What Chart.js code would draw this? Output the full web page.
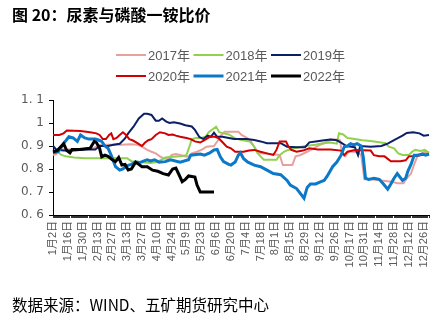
<!DOCTYPE html>
<html>
<head>
<meta charset="utf-8">
<script src="https://cdn.jsdelivr.net/npm/chart.js@4/dist/chart.umd.min.js"></script>
<style>
  html, body { margin: 0; padding: 0; background: #fff; }
  #wrap { width: 447px; height: 335px; }
</style>
</head>
<body>
<div id="wrap"><canvas id="ratioChart" width="447" height="335"></canvas></div>
<script>

    /**
     * Data
     *
     * - days of the year on the x axis (holidays left out)
     * - one list of [day index, ratio] points per year
     */

    var skipDays = ['1月1日', '5月1日', '10月1日', '10月2日', '10月3日', '10月4日', '10月5日', '10月6日', '10月7日'];
    var labelEvery = 14;
    var yTicks = { min: 0.6, max: 1.1, step: 0.1 };

    var years = ['2017年', '2018年', '2019年', '2020年', '2021年', '2022年'];
    var colors = ['#E8A09E', '#92D050', '#0B1F66', '#D00000', '#0B78C8', '#000000'];
    var widths = [2, 2, 2, 2, 3, 3];

    var data2017 = [[0, 0.861], [3, 0.865], [5, 0.883], [10, 0.885], [25, 0.885], [38, 0.89], [44, 0.904], [52, 0.905], [65, 0.905], [73, 0.908], [80, 0.905], [84, 0.897], [89, 0.883], [93, 0.875], [97, 0.868], [101, 0.855], [104, 0.847], [109, 0.843], [112, 0.861], [116, 0.865], [121, 0.86], [125, 0.854], [128, 0.854], [131, 0.868], [136, 0.875], [141, 0.885], [145, 0.897], [152, 0.9], [156, 0.926], [159, 0.948], [162, 0.962], [175, 0.962], [178, 0.948], [183, 0.935], [186, 0.926], [190, 0.897], [193, 0.875], [196, 0.868], [205, 0.865], [214, 0.861], [217, 0.817], [226, 0.817], [229, 0.855], [233, 0.86], [240, 0.875], [246, 0.89], [252, 0.905], [256, 0.912], [262, 0.928], [268, 0.928], [271, 0.925], [273, 0.865], [276, 0.855], [279, 0.875], [285, 0.875], [289, 0.868], [291, 0.86], [294, 0.755], [300, 0.755], [310, 0.75], [320, 0.745], [325, 0.738], [331, 0.738], [334, 0.76], [338, 0.78], [341, 0.82], [344, 0.855], [347, 0.865], [351, 0.875], [355, 0.872]];

    var data2018 = [[0, 0.875], [4, 0.875], [8, 0.861], [12, 0.855], [20, 0.85], [30, 0.847], [70, 0.847], [74, 0.834], [82, 0.83], [92, 0.826], [98, 0.83], [102, 0.84], [106, 0.85], [110, 0.852], [120, 0.855], [126, 0.86], [129, 0.9], [131, 0.93], [135, 0.935], [140, 0.935], [144, 0.94], [147, 0.96], [152, 0.977], [154, 0.984], [157, 0.96], [161, 0.955], [166, 0.95], [172, 0.933], [178, 0.926], [186, 0.919], [190, 0.897], [193, 0.87], [196, 0.855], [199, 0.84], [211, 0.84], [214, 0.86], [218, 0.875], [222, 0.883], [228, 0.89], [238, 0.9], [248, 0.905], [255, 0.912], [262, 0.915], [268, 0.91], [270, 0.955], [274, 0.95], [278, 0.935], [285, 0.93], [292, 0.925], [300, 0.922], [308, 0.916], [314, 0.912], [317, 0.897], [322, 0.89], [326, 0.868], [330, 0.861], [336, 0.861], [339, 0.875], [342, 0.883], [347, 0.878], [351, 0.883], [355, 0.87]];

    var data2019 = [[0, 0.9], [3, 0.885], [10, 0.88], [20, 0.88], [30, 0.885], [40, 0.885], [44, 0.9], [52, 0.9], [57, 0.905], [63, 0.91], [68, 0.933], [71, 0.955], [76, 0.984], [81, 1.02], [86, 1.04], [89, 1.04], [93, 1.035], [97, 1.01], [100, 1.01], [103, 1.02], [107, 1.006], [110, 1.0], [114, 1.003], [120, 0.998], [125, 0.99], [131, 0.985], [134, 0.97], [138, 0.94], [142, 0.93], [146, 0.945], [149, 0.94], [152, 0.958], [155, 0.94], [160, 0.94], [166, 0.935], [171, 0.93], [183, 0.93], [190, 0.926], [196, 0.92], [202, 0.912], [215, 0.912], [221, 0.897], [230, 0.895], [238, 0.895], [242, 0.916], [248, 0.92], [256, 0.925], [262, 0.928], [268, 0.925], [272, 0.915], [277, 0.9], [285, 0.895], [288, 0.86], [290, 0.9], [300, 0.897], [310, 0.9], [316, 0.91], [322, 0.926], [326, 0.935], [330, 0.945], [334, 0.957], [340, 0.96], [346, 0.955], [350, 0.945], [355, 0.948]];

    var data2020 = [[0, 0.948], [6, 0.948], [10, 0.955], [13, 0.967], [26, 0.965], [35, 0.96], [41, 0.955], [44, 0.948], [47, 0.93], [50, 0.93], [53, 0.948], [55, 0.955], [57, 0.93], [60, 0.935], [63, 0.948], [66, 0.96], [69, 0.948], [72, 0.93], [75, 0.925], [79, 0.915], [84, 0.9], [87, 0.915], [90, 0.925], [93, 0.93], [97, 0.948], [101, 0.96], [106, 0.955], [109, 0.948], [113, 0.95], [116, 0.945], [120, 0.94], [126, 0.935], [130, 0.93], [134, 0.92], [139, 0.915], [143, 0.925], [148, 0.94], [153, 0.94], [156, 0.935], [158, 0.926], [161, 0.912], [164, 0.897], [168, 0.89], [172, 0.875], [180, 0.875], [185, 0.88], [190, 0.883], [196, 0.875], [202, 0.868], [208, 0.861], [211, 0.883], [214, 0.92], [220, 0.92], [222, 0.9], [225, 0.883], [230, 0.875], [236, 0.88], [242, 0.89], [250, 0.885], [262, 0.885], [272, 0.88], [275, 0.86], [278, 0.875], [285, 0.883], [300, 0.88], [303, 0.86], [308, 0.855], [313, 0.855], [319, 0.834], [328, 0.834], [333, 0.838], [336, 0.855], [342, 0.857], [350, 0.862], [355, 0.865]];

    var data2021 = [[0, 0.87], [5, 0.875], [10, 0.91], [15, 0.94], [19, 0.935], [23, 0.92], [26, 0.948], [30, 0.935], [34, 0.93], [40, 0.93], [43, 0.926], [46, 0.92], [49, 0.9], [52, 0.89], [55, 0.86], [59, 0.81], [63, 0.795], [66, 0.8], [70, 0.815], [74, 0.82], [78, 0.83], [82, 0.828], [86, 0.835], [89, 0.84], [92, 0.835], [96, 0.84], [100, 0.83], [106, 0.832], [111, 0.84], [120, 0.83], [128, 0.84], [130, 0.86], [139, 0.865], [143, 0.86], [148, 0.87], [152, 0.883], [155, 0.885], [158, 0.853], [161, 0.832], [166, 0.82], [168, 0.817], [172, 0.83], [175, 0.86], [177, 0.87], [180, 0.845], [184, 0.83], [190, 0.817], [196, 0.81], [202, 0.795], [208, 0.78], [215, 0.775], [221, 0.75], [224, 0.73], [230, 0.715], [237, 0.673], [240, 0.72], [243, 0.735], [248, 0.735], [253, 0.745], [256, 0.75], [259, 0.77], [264, 0.81], [268, 0.83], [272, 0.86], [275, 0.897], [278, 0.9], [281, 0.91], [284, 0.905], [287, 0.91], [291, 0.9], [293, 0.85], [295, 0.76], [298, 0.755], [303, 0.76], [308, 0.755], [312, 0.735], [316, 0.712], [319, 0.735], [322, 0.76], [325, 0.78], [330, 0.75], [333, 0.76], [335, 0.79], [338, 0.82], [341, 0.86], [344, 0.86], [349, 0.865], [352, 0.86], [355, 0.865]];

    var data2022 = [[0, 0.875], [4, 0.88], [8, 0.9], [10, 0.91], [13, 0.88], [16, 0.87], [18, 0.885], [25, 0.885], [35, 0.89], [39, 0.92], [41, 0.915], [44, 0.89], [46, 0.853], [49, 0.86], [52, 0.855], [56, 0.84], [59, 0.832], [62, 0.85], [65, 0.817], [68, 0.82], [71, 0.796], [74, 0.8], [78, 0.83], [81, 0.82], [84, 0.81], [89, 0.81], [94, 0.795], [99, 0.79], [104, 0.78], [109, 0.774], [113, 0.8], [116, 0.804], [119, 0.775], [122, 0.745], [125, 0.755], [128, 0.77], [134, 0.765], [136, 0.73], [139, 0.70], [152, 0.70]];

    var series = [data2017, data2018, data2019, data2020, data2021, data2022];

    /**
     * Day labels: 1月2日 ... 12月31日
     */

    var dayLabels = [];
    var d = new Date(2021, 0, 1);
    while (d.getFullYear() === 2021) {
        var name = (d.getMonth() + 1) + '月' + d.getDate() + '日';
        if (skipDays.indexOf(name) === -1) dayLabels.push(name);
        d.setDate(d.getDate() + 1);
    }

    var FONT = '"Liberation Sans", "Noto Sans CJK SC", sans-serif';

    /**
     * Title, two-row legend and source line
     */

    var decorations = {
        id: 'decorations',
        afterDraw: function (chart) {
            var ctx = chart.ctx;
            ctx.save();
            ctx.textBaseline = 'middle';
            ctx.textAlign = 'left';

            ctx.fillStyle = '#000';
            ctx.font = 'bold 16px "Noto Sans CJK SC", sans-serif';
            ctx.fillText('图 20：尿素与磷酸一铵比价', 12, 15);

            ctx.font = '13px ' + FONT;
            chart.data.datasets.forEach(function (ds, i) {
                var x = 116 + (i % 3) * 77.5;
                var y = 55 + Math.floor(i / 3) * 21;
                ctx.strokeStyle = ds.borderColor;
                ctx.lineWidth = ds.borderWidth;
                ctx.beginPath();
                ctx.moveTo(x, y);
                ctx.lineTo(x + 30, y);
                ctx.stroke();
                ctx.fillStyle = '#595959';
                ctx.fillText(ds.label, x + 32, y + 1);
            });

            ctx.fillStyle = '#000';
            ctx.font = '15.5px "Noto Sans CJK SC", sans-serif';
            ctx.fillText('数据来源：WIND、五矿期货研究中心', 12, 305);
            ctx.restore();
        }
    };

    var datasets = years.map(function (year, i) {
        return {
            label: year,
            data: series[i].map(function (p) { return { x: dayLabels[p[0]], y: p[1] }; }),
            borderColor: colors[i],
            backgroundColor: colors[i],
            borderWidth: widths[i],
            pointRadius: 0,
            tension: 0,
            order: years.length - i
        };
    });

    var ctx = document.getElementById('ratioChart').getContext('2d');
    var chart = new Chart(ctx, {
        type: 'line',
        data: {
            labels: dayLabels,
            datasets: datasets
        },
        plugins: [decorations],
        options: {
            responsive: false,
            animation: false,
            layout: { padding: { top: 100, right: 18, left: 0, bottom: 0 } },
            plugins: {
                legend: { display: false },
                title: { display: false },
                tooltip: { enabled: false }
            },
            scales: {
                x: {
                    type: 'category',
                    offset: false,
                    afterFit: function (scale) { scale.height = 120; },
                    border: { color: '#000', width: 1 },
                    grid: { drawOnChartArea: false, drawTicks: true, tickLength: 3, color: '#333' },
                    ticks: {
                        autoSkip: false,
                        minRotation: 90,
                        maxRotation: 90,
                        padding: 3,
                        color: '#595959',
                        font: { family: FONT, size: 11 },
                        callback: function (val, i) {
                            return i % labelEvery === 0 ? dayLabels[i] : '';
                        }
                    }
                },
                y: {
                    min: yTicks.min,
                    max: yTicks.max,
                    afterFit: function (scale) { scale.width = 53; },
                    border: { color: '#000', width: 1 },
                    grid: { drawOnChartArea: false, drawTicks: true, tickLength: 4, color: '#000' },
                    ticks: {
                        stepSize: yTicks.step,
                        padding: 5,
                        color: '#595959',
                        font: { family: '"DejaVu Sans", sans-serif', size: 12 },
                        callback: function (v) {
                            if (Math.abs(v - 1) < 1e-6) return '1';
                            return v.toFixed(1).replace('.', '. ');
                        }
                    }
                }
            }
        }
    });

</script>
</body>
</html>
